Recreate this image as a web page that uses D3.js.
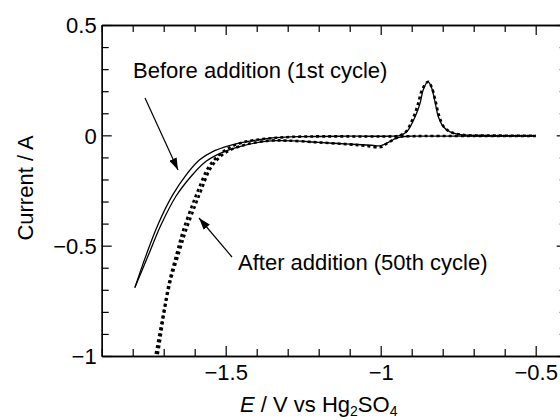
<!DOCTYPE html>
<html>
<head>
<meta charset="utf-8">
<script src="https://cdn.jsdelivr.net/npm/d3@7"></script>
<style>
  html, body { margin: 0; padding: 0; background: #fff; overflow: hidden; }
  svg { display: block; }
  text { font-family: "Liberation Sans", Arial, Helvetica, sans-serif; fill: #000; }
</style>
</head>
<body>
<svg id="chart" width="560" height="420"></svg>
<script>
// ---- Data (E in V vs Hg2SO4, current in A) ----
const xMajorTicks = [-1.5, -1.0, -0.5];
const xMinorTicks = [-1.9, -1.8, -1.7, -1.6, -1.4, -1.3, -1.2, -1.1, -0.9, -0.8, -0.7, -0.6, -0.4];
const yMajorTicks = [0.5, 0, -0.5, -1];
const yMinorTicks = [0.4, 0.3, 0.2, 0.1, -0.1, -0.2, -0.3, -0.4, -0.6, -0.7, -0.8, -0.9];
const xTickLabels = ["\u22121.5", "\u22121", "\u22120.5"];
const yTickLabels = ["0.5", "0", "\u22120.5", "\u22121"];

// Before addition (1st cycle): cathodic (negative-going) scan
const beforeForward = [
  [-0.50, -0.003], [-0.60, -0.003], [-0.70, -0.003], [-0.80, -0.004], [-0.90, -0.004],
  [-0.93, -0.006], [-0.95, -0.013], [-0.97, -0.028], [-0.99, -0.042], [-1.00, -0.047],
  [-1.03, -0.045], [-1.10, -0.040], [-1.20, -0.032], [-1.28, -0.025], [-1.34, -0.024],
  [-1.39, -0.031], [-1.44, -0.045], [-1.49, -0.066], [-1.53, -0.090], [-1.57, -0.125],
  [-1.61, -0.183], [-1.66, -0.275], [-1.71, -0.410], [-1.75, -0.545], [-1.793, -0.690]
];
// Before addition (1st cycle): anodic (return) scan
const beforeReturn = [
  [-1.793, -0.690], [-1.759, -0.552], [-1.719, -0.406], [-1.671, -0.270], [-1.628, -0.180],
  [-1.585, -0.112], [-1.542, -0.074], [-1.488, -0.047], [-1.432, -0.029], [-1.357, -0.013],
  [-1.26, -0.006], [-1.10, -0.004], [-0.96, -0.004], [-0.943, -0.003], [-0.916, 0.016],
  [-0.889, 0.084], [-0.873, 0.145], [-0.863, 0.205], [-0.848, 0.243], [-0.837, 0.220],
  [-0.826, 0.160], [-0.814, 0.084], [-0.798, 0.039], [-0.776, 0.016], [-0.734, 0.002],
  [-0.65, -0.001], [-0.50, -0.002]
];
// After addition (50th cycle): cathodic scan
const afterForward = [
  [-0.50, -0.003], [-0.70, -0.003], [-0.90, -0.004], [-0.94, -0.007], [-0.96, -0.020],
  [-0.98, -0.037], [-1.00, -0.053], [-1.05, -0.047], [-1.10, -0.041], [-1.20, -0.032],
  [-1.30, -0.024], [-1.36, -0.024], [-1.43, -0.040], [-1.49, -0.070], [-1.52, -0.100],
  [-1.55, -0.152], [-1.578, -0.245], [-1.599, -0.320], [-1.628, -0.430], [-1.648, -0.520],
  [-1.678, -0.660], [-1.699, -0.810], [-1.719, -0.990], [-1.749, -1.170], [-1.779, -1.350]
];
// After addition (50th cycle): return scan
const afterReturn = [
  [-1.779, -1.350], [-1.753, -1.180], [-1.727, -1.000], [-1.703, -0.820], [-1.683, -0.670],
  [-1.657, -0.530], [-1.637, -0.430], [-1.609, -0.320], [-1.588, -0.245], [-1.558, -0.150],
  [-1.526, -0.095], [-1.491, -0.058], [-1.44, -0.030], [-1.36, -0.014], [-1.26, -0.006],
  [-0.95, -0.004], [-0.94, -0.002], [-0.92, 0.014], [-0.895, 0.080], [-0.879, 0.145],
  [-0.867, 0.205], [-0.847, 0.243], [-0.836, 0.220], [-0.824, 0.160], [-0.812, 0.090],
  [-0.797, 0.040], [-0.776, 0.016], [-0.735, 0.002], [-0.65, -0.001], [-0.50, -0.002]
];

const labelBefore = "Before addition (1st cycle)";
const labelAfter = "After addition (50th cycle)";
const yAxisTitle = "Current / A";

// ---- Layout ----
const svg = d3.select("#chart");
const x = d3.scaleLinear().domain([-1.9, -0.4]).range([101.7, 566.7]);
const y = d3.scaleLinear().domain([-1, 0.5]).range([356, 25]);
const FS = 22;

svg.append("defs").append("clipPath").attr("id", "plotClip")
  .append("rect").attr("x", x(-1.9)).attr("y", y(0.5))
  .attr("width", x(-0.4) - x(-1.9)).attr("height", y(-1) - y(0.5));

const marker = svg.select("defs").append("marker")
  .attr("id", "arrow").attr("viewBox", "0 0 12 8").attr("refX", 12).attr("refY", 4)
  .attr("markerUnits", "userSpaceOnUse").attr("markerWidth", 12).attr("markerHeight", 8)
  .attr("orient", "auto");
marker.append("path").attr("d", "M0,0 L12,4 L0,8 Z").attr("fill", "#000");

// ---- Axes (ticks inward) ----
function styleAxis(g) {
  g.select(".domain").attr("stroke", "#000").attr("stroke-width", 1.3);
  g.selectAll(".tick line").attr("stroke", "#000").attr("stroke-width", 1.2);
}
const bottomMinor = svg.append("g").attr("transform", `translate(0,${y(-1)})`)
  .call(d3.axisBottom(x).tickValues(xMinorTicks).tickSizeInner(-7).tickSizeOuter(0).tickFormat(""));
styleAxis(bottomMinor);
const bottomMajor = svg.append("g").attr("transform", `translate(0,${y(-1)})`)
  .call(d3.axisBottom(x).tickValues(xMajorTicks).tickSizeInner(-10).tickSizeOuter(0)
    .tickFormat((d, i) => xTickLabels[i]));
styleAxis(bottomMajor);
bottomMajor.selectAll("text").attr("y", 24).attr("dy", 0)
  .style("font-size", FS + "px").style("font-family", "'Liberation Sans', Arial, sans-serif");

const topMinor = svg.append("g").attr("transform", `translate(0,${y(0.5)})`)
  .call(d3.axisTop(x).tickValues(xMinorTicks).tickSizeInner(-7).tickSizeOuter(0).tickFormat(""));
styleAxis(topMinor);
const topMajor = svg.append("g").attr("transform", `translate(0,${y(0.5)})`)
  .call(d3.axisTop(x).tickValues(xMajorTicks).tickSizeInner(-10).tickSizeOuter(0).tickFormat(""));
styleAxis(topMajor);

const leftMinor = svg.append("g").attr("transform", `translate(${x(-1.9)},0)`)
  .call(d3.axisLeft(y).tickValues(yMinorTicks).tickSizeInner(-7).tickSizeOuter(0).tickFormat(""));
styleAxis(leftMinor);
const leftMajor = svg.append("g").attr("transform", `translate(${x(-1.9)},0)`)
  .call(d3.axisLeft(y).tickValues(yMajorTicks).tickSizeInner(-10).tickSizeOuter(0)
    .tickFormat((d, i) => yTickLabels[i]));
styleAxis(leftMajor);
leftMajor.selectAll("text").attr("x", -5).attr("dy", "0.36em")
  .style("font-size", FS + "px").style("font-family", "'Liberation Sans', Arial, sans-serif");

const rightMinor = svg.append("g").attr("transform", `translate(${x(-0.4)},0)`)
  .call(d3.axisRight(y).tickValues(yMinorTicks).tickSizeInner(-7).tickSizeOuter(0).tickFormat(""));
styleAxis(rightMinor);
const rightMajor = svg.append("g").attr("transform", `translate(${x(-0.4)},0)`)
  .call(d3.axisRight(y).tickValues(yMajorTicks).tickSizeInner(-10).tickSizeOuter(0).tickFormat(""));
styleAxis(rightMajor);

// ---- Curves ----
const line = d3.line().x(d => x(d[0])).y(d => y(d[1])).curve(d3.curveCatmullRom.alpha(0.5));
const plot = svg.append("g").attr("clip-path", "url(#plotClip)");

[afterForward, afterReturn].forEach((series, i) => {
  plot.append("path").datum(series).attr("d", line)
    .attr("fill", "none").attr("stroke", "#000").attr("stroke-width", 2.6)
    .attr("stroke-dasharray", "3,3").attr("stroke-dashoffset", i * 3);
});
[beforeForward, beforeReturn].forEach(series => {
  plot.append("path").datum(series).attr("d", line)
    .attr("fill", "none").attr("stroke", "#000").attr("stroke-width", 1.3);
});

// ---- Annotations ----
svg.append("text").attr("x", 133).attr("y", 78).style("font-size", FS + "px").text(labelBefore);
svg.append("line").attr("x1", 145).attr("y1", 98).attr("x2", 178).attr("y2", 170)
  .attr("stroke", "#000").attr("stroke-width", 1.2).attr("marker-end", "url(#arrow)");

svg.append("text").attr("x", 238).attr("y", 270).style("font-size", FS + "px").text(labelAfter);
svg.append("line").attr("x1", 232).attr("y1", 257).attr("x2", 199).attr("y2", 218)
  .attr("stroke", "#000").attr("stroke-width", 1.2).attr("marker-end", "url(#arrow)");

// ---- Axis titles ----
svg.append("text").attr("transform", "translate(33,188) rotate(-90)")
  .attr("text-anchor", "middle").style("font-size", FS + "px").text(yAxisTitle);

const xt = svg.append("text").attr("x", 240).attr("y", 412).style("font-size", FS + "px");
xt.append("tspan").style("font-style", "italic").text("E");
xt.append("tspan").text(" / V vs Hg");
xt.append("tspan").attr("dy", 4).style("font-size", "14px").text("2");
xt.append("tspan").attr("dy", -4).text("SO");
xt.append("tspan").attr("dy", 4).style("font-size", "14px").text("4");
</script>
</body>
</html>
